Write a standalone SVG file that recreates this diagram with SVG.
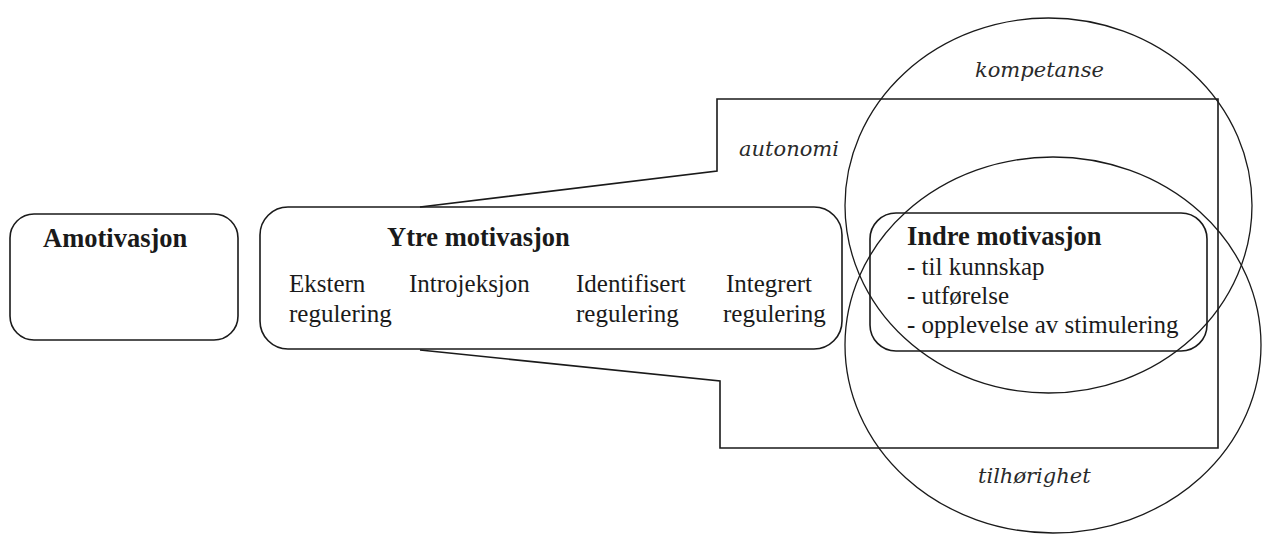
<svg xmlns="http://www.w3.org/2000/svg" width="1263" height="534" viewBox="0 0 1263 534">
  <style>
    .shape { fill: none; stroke: #1a1a1a; stroke-width: 1.6; }
    .ell { fill: none; stroke: #1a1a1a; stroke-width: 1.3; }
    .bold { font-family: "Liberation Serif", serif; font-weight: bold; font-size: 26.5px; fill: #1a1a1a; }
    .reg { font-family: "Liberation Serif", serif; font-size: 25px; fill: #1a1a1a; }
    .ital { font-family: "DejaVu Serif", serif; font-style: italic; font-size: 21px; fill: #2a2a2a; }
  </style>
  <rect x="0" y="0" width="1263" height="534" fill="#ffffff"/>

  <g id="autonomi">
    <polyline class="shape" points="420,207 717,171 717,99 1218,99 1218,448 720,448 720,381 420,350"/>
    <text class="ital" x="739" y="156">autonomi</text>
  </g>

  <g id="kompetanse">
    <ellipse class="ell" cx="1048.5" cy="205.5" rx="203.5" ry="187.5"/>
    <text class="ital" x="975" y="77">kompetanse</text>
  </g>

  <g id="tilhorighet">
    <ellipse class="ell" cx="1053" cy="345" rx="208" ry="188"/>
    <text class="ital" x="978" y="483">tilhørighet</text>
  </g>

  <g id="amotivasjon">
    <rect class="shape" x="10" y="214" width="228" height="126" rx="24" ry="24"/>
    <text class="bold" x="43" y="247">Amotivasjon</text>
  </g>

  <g id="ytre-motivasjon">
    <rect class="shape" x="260" y="207" width="582" height="142" rx="28" ry="28"/>
    <text class="bold" x="387" y="246">Ytre motivasjon</text>
    <text class="reg" x="289" y="292">Ekstern</text>
    <text class="reg" x="289" y="322">regulering</text>
    <text class="reg" x="409" y="292">Introjeksjon</text>
    <text class="reg" x="576" y="292">Identifisert</text>
    <text class="reg" x="576" y="322">regulering</text>
    <text class="reg" x="726" y="292">Integrert</text>
    <text class="reg" x="723" y="322">regulering</text>
  </g>

  <g id="indre-motivasjon">
    <rect class="shape" x="870" y="213" width="337" height="138" rx="26" ry="26"/>
    <text class="bold" x="907" y="245">Indre motivasjon</text>
    <text class="reg" x="907" y="275">- til kunnskap</text>
    <text class="reg" x="907" y="304">- utførelse</text>
    <text class="reg" x="907" y="333">- opplevelse av stimulering</text>
  </g>

  <g id="connectors"></g>
</svg>
